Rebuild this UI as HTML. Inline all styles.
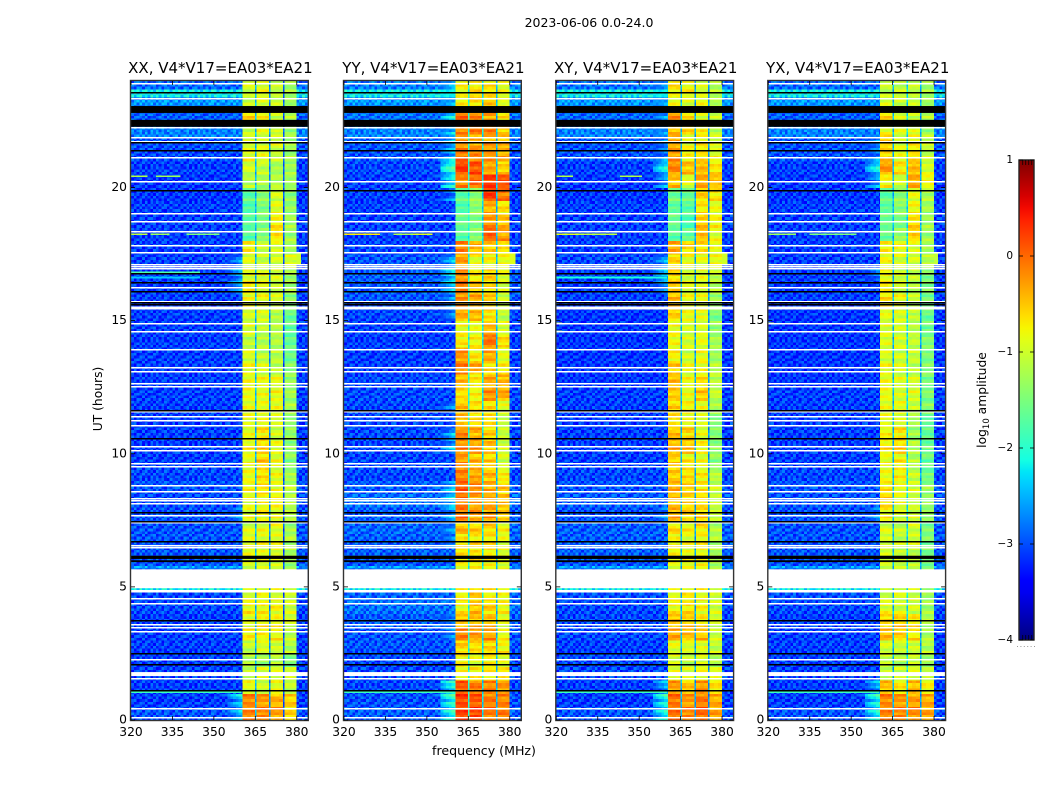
<!DOCTYPE html>
<html lang="en">
<head>
<meta charset="utf-8">
<title>2023-06-06 dynamic spectra</title>
<style>
html,body{margin:0;padding:0;background:#fff;width:1050px;height:800px;overflow:hidden}
svg{display:block}
text{font-family:"DejaVu Sans","Liberation Sans",sans-serif;fill:#000}
</style>
</head>
<body>
<svg id="chart" xmlns="http://www.w3.org/2000/svg" width="1050" height="800" viewBox="0 0 1050 800">
  <text x="589" y="27" font-size="12.5" text-anchor="middle">2023-06-06 0.0-24.0</text>
  <text transform="translate(102,399) rotate(-90)" font-size="12.3" text-anchor="middle">UT (hours)</text>
  <text x="484" y="755" font-size="12.6" text-anchor="middle">frequency (MHz)</text>
  <text transform="translate(986,400) rotate(-90)" font-size="12.3" text-anchor="middle">log<tspan font-size="8.5" dy="3">10</tspan><tspan dy="-3"> amplitude</tspan></text>
</svg>
<script>
// ---- tick labels and categories ----
const panelTitles = ['XX, V4*V17=EA03*EA21', 'YY, V4*V17=EA03*EA21', 'XY, V4*V17=EA03*EA21', 'YX, V4*V17=EA03*EA21'];
const freqTicks = [320, 335, 350, 365, 380];
const timeTicks = [0, 5, 10, 15, 20];
const colorTicks = [-4, -3, -2, -1, 0, 1];

// ---- log10 amplitude per half-hour block (UT 0.0 to 23.5), one array per band per polarisation ----
const xxBand1 = [-.2,-.2,-.9,-1,-1.2,-1.1,-.8,-.9,-.8,-.9,-1,-1,-.9,-.9,-1,-.9,-.9,-.8,-.9,-.9,-.8,-.9,-.9,-.9,-.9,-.9,-.9,-1,-1.1,-1,-1,-.9,-.8,-.9,-.9,-.8,-1.7,-1.8,-1.8,-1.7,-1.2,-1,-.9,-1,-1.1,-.7,-1.1,-1];
const xxBand2 = [-.2,-.3,-1,-1,-1.3,-1,-.8,-.8,-.8,-.9,-1,-1,-.9,-.9,-.9,-.8,-.8,-.7,-.7,-.6,-.6,-.7,-.8,-.9,-.9,-.9,-1,-1.1,-1.2,-1.1,-1,-.9,-.9,-.9,-1.1,-1,-1.5,-1.5,-1.5,-1.4,-1.2,-1.1,-.9,-1,-1,-.8,-.9,-.9];
const xxBand3 = [-.3,-.4,-.9,-.9,-1.2,-1,-.8,-.8,-.8,-.9,-1,-1,-.9,-.9,-.9,-.9,-.8,-.9,-.9,-.9,-.9,-1,-1,-.9,-.9,-.9,-1.1,-1.2,-1.2,-1.2,-1.2,-1,-1,-1,-1,-1,-.7,-.8,-.9,-1,-1.2,-1.3,-1.1,-1,-1.1,-1,-1.1,-1.1];
const xxBand4 = [-.6,-.6,-1.1,-1.1,-1.5,-1.2,-1.1,-1,-1,-1.1,-1.3,-1.3,-1.2,-1.2,-1.3,-1.2,-1.2,-1.2,-1.3,-1.4,-1.4,-1.4,-1.4,-1.3,-1.3,-1.3,-1.5,-1.6,-1.7,-1.7,-1.6,-1.4,-1.3,-1.3,-1,-1.3,-1.3,-1.3,-1.4,-1.4,-1.3,-1.3,-1.3,-1.3,-1.3,-1.2,-1.3,-1.3];

const yyBand1 = [.15,.15,.05,-.7,-.8,-.6,-.2,-.5,-.8,-.7,-.9,-.8,-.7,-.7,-.5,-.1,-.1,.05,-.2,-.3,-.2,-.2,-.5,-.5,-.7,-.5,-.2,-.3,-.7,-.9,-.4,-.3,-.2,-.2,-.3,-.2,-1.7,-1.7,-1.8,-1.7,-.2,.2,-.1,-.3,-.2,-.1,-.8,-.8];
const yyBand2 = [.15,.05,-.1,-.8,-.9,-.7,-.3,-.5,-.5,-.6,-.9,-.8,-.7,-.7,-.6,-.3,-.3,-.2,-.4,-.5,-.3,-.4,-.6,-.7,-.8,-.8,-.4,-.7,-.8,-.9,-.5,-.4,-.5,-.7,-.9,-.4,-1.5,-1.5,-1.4,-1.4,0,.1,-.2,-.4,-.2,-.2,-.6,-.7];
const yyBand3 = [-.1,-.1,-.2,-.7,-.8,-.6,-.3,-.5,-.6,-.7,-.9,-.8,-.7,-.7,-.6,-.3,-.4,-.4,-.5,-.6,-.5,-.6,-.7,-.7,-.3,-.4,-.6,-.4,-.1,-.5,-.7,-.6,-.6,-.6,-.8,-.6,0,-.3,-.4,.2,.2,-.4,-.3,-.4,-.2,-.3,-.6,-.7];
const yyBand4 = [-.1,-.2,-.3,-.8,-.9,-.8,-.8,-.9,-.8,-.9,-1,-.9,-.9,-.9,-.8,-.6,-.5,-.6,-.8,-1,-1,-1.1,-1.1,-1,-.4,-.4,-.8,-.9,-.7,-1,-1.1,-1,-1,-.9,-.9,-.7,-.3,-.5,-.7,-.1,.1,-.6,-.4,-.5,-.5,-.7,-.9,-.9];

const xyBand1 = [-.1,-.1,-.3,-.8,-1,-.9,-.4,-.5,-.8,-.8,-.9,-.9,-.8,-.8,-.7,-.4,-.5,-.4,-.6,-.6,-.4,-.5,-.7,-.6,-.6,-.5,-.6,-.8,-.8,-.9,-.6,-.5,-.6,-.6,-.6,-.4,-1.7,-1.7,-1.7,-1.6,-.5,-.2,-.3,-.4,-.5,-.3,-.9,-.7];
const xyBand2 = [-.2,-.3,-.5,-1,-1.1,-1,-.5,-.6,-.7,-.8,-.9,-.9,-.9,-.9,-.8,-.6,-.6,-.6,-.7,-.8,-.5,-.6,-.8,-.8,-.9,-.9,-.9,-1,-1,-1,-.9,-.9,-.9,-1,-.9,-.6,-1.7,-1.8,-1.7,-1.6,-.9,-.5,-.8,-.9,-.7,-.7,-.9,-.8];
const xyBand3 = [0,-.1,-.3,-.8,-1,-.9,-.5,-.7,-.8,-.8,-.9,-.8,-.8,-.8,-.7,-.6,-.7,-.7,-.8,-.9,-.8,-.9,-1,-.9,-.6,-.7,-.8,-.9,-.9,-1,-.9,-.9,-.9,-.9,-.9,-.7,-.5,-.6,-.7,-.6,-.4,-.5,-.7,-.8,-.8,-.9,-.9,-1];
const xyBand4 = [-.3,-.4,-.7,-1,-1.2,-1.1,-1,-1,-1,-1.1,-1.3,-1.2,-1.2,-1.2,-1.2,-1.1,-1.1,-1.1,-1.2,-1.4,-1.4,-1.5,-1.5,-1.3,-1.1,-1.1,-1.2,-1.3,-1.3,-1.4,-1.5,-1.3,-1.2,-1.1,-.9,-.9,-.9,-.8,-.9,-.7,-.5,-.7,-.9,-1,-1.1,-1.1,-1.2,-1.2];

const yxBand1 = [-.2,-.2,-.5,-1,-1.1,-1,-.5,-.6,-.9,-1,-1.1,-1,-1,-1,-1,-.8,-.6,-.7,-.9,-.9,-.7,-.8,-.9,-.9,-.9,-.9,-.9,-1,-.9,-1,-.9,-.7,-.8,-.8,-.8,-.8,-1.6,-1.7,-1.7,-1.7,-.8,-.3,-.6,-.6,-.9,-.7,-1,-1.1];
const yxBand2 = [-.2,-.3,-.7,-1.1,-1.2,-1.1,-.6,-.6,-1,-1,-1.1,-1.1,-1.1,-1.1,-1.1,-1,-.9,-.9,-.8,-.8,-.6,-.7,-.9,-.9,-1,-1,-1,-1,-1,-1,-1,-.9,-1,-1,-1,-.8,-1.4,-1.5,-1.4,-1.4,-1,-.7,-.9,-1,-1,-1,-1,-1.1];
const yxBand3 = [-.2,-.3,-.5,-.9,-1.1,-1,-.7,-.7,-1,-1,-1.2,-1.1,-1.1,-1,-1,-1,-1.1,-1,-1.1,-1.2,-1.2,-1.3,-1.3,-1.1,-1,-1,-1.1,-1.1,-1.1,-1.2,-1.1,-1.1,-1.1,-1.1,-1,-1,-.6,-.7,-.8,-.9,-.4,-.5,-.7,-.8,-1,-1,-1.1,-1.1];
const yxBand4 = [-.3,-.4,-.8,-1.2,-1.3,-1.2,-1.2,-1.2,-1.3,-1.4,-1.5,-1.5,-1.5,-1.5,-1.5,-1.4,-1.4,-1.4,-1.6,-1.6,-1.6,-1.7,-1.7,-1.5,-1.5,-1.5,-1.5,-1.5,-1.5,-1.6,-1.6,-1.5,-1.5,-1.5,-1.2,-1.3,-1.3,-1.3,-1.3,-1.2,-.8,-1,-1.1,-1.1,-1.3,-1.2,-1.3,-1.3];

// ---- off-band background level per half-hour block ----
const xxBackground = [-3,-3.1,-3.1,-3.1,-3.1,-3.1,-3.1,-3.1,-3.05,-3.05,-3,-3,-3,-3,-3,-3,-3.05,-3,-3.05,-3.1,-3.1,-3.1,-3.1,-3.1,-3.1,-3.1,-3.1,-3.1,-3.1,-3.1,-3.1,-3.1,-3.1,-3.1,-3.1,-3.1,-3.1,-3.1,-3.1,-3.15,-3.15,-3.1,-3.05,-3,-2.95,-2.95,-2.9,-2.9];
const yyBackground = [-2.95,-3,-3.05,-3.05,-3.05,-3,-3,-2.95,-2.85,-2.9,-3,-3,-2.95,-2.95,-2.9,-2.95,-2.85,-2.95,-3.05,-3.05,-3.05,-3.05,-3.05,-3.05,-3.05,-3.05,-3.1,-3.1,-3.1,-3.1,-3.05,-3,-2.95,-2.95,-3,-3.05,-3.1,-3.1,-3.1,-3.1,-3.1,-3.05,-3,-2.95,-2.85,-2.85,-2.85,-2.8];
const xyBackground = [-3,-3.1,-3.1,-3.05,-3.05,-3.1,-3.05,-3.05,-3.05,-3,-3,-3,-2.95,-2.95,-2.95,-3,-2.95,-3,-3.05,-3.1,-3.1,-3.1,-3.1,-3.1,-3.1,-3.15,-3.15,-3.15,-3.15,-3.15,-3.15,-3.1,-3.1,-3.1,-3.05,-3.1,-3.1,-3.1,-3.1,-3.15,-3.15,-3.1,-3,-3,-2.95,-2.9,-2.85,-2.85];
const yxBackground = [-3,-3.1,-3.1,-3.1,-3.1,-3.1,-3.1,-3.1,-3.05,-3,-3,-3,-3,-3,-3,-3,-3,-3,-3.05,-3.1,-3.1,-3.1,-3.1,-3.1,-3.1,-3.15,-3.15,-3.15,-3.15,-3.15,-3.15,-3.1,-3.1,-3.1,-3.1,-3.1,-3.1,-3.1,-3.1,-3.15,-3.15,-3.1,-3,-3,-2.95,-2.95,-2.9,-2.9];

// ---- level of the skirt next to the band (at or below -2.85 means no visible skirt) ----
const xxSkirt = [-2.6,-2.5,-3,-3,-3,-3,-3,-3,-3,-3,-3,-3,-3,-3,-3,-2.8,-3,-3,-3,-3,-3,-3,-3,-3,-2.9,-3,-3,-3,-3,-3,-2.9,-3,-2.7,-2.6,-2.7,-3,-3,-3,-3,-3,-3,-3,-3,-3,-3,-3,-2.9,-2.9];
const yySkirt = [-2.2,-2.1,-2.2,-3,-3,-3,-2.8,-2.8,-3,-3,-3,-2.9,-3,-2.8,-2.8,-2.6,-2.4,-2.5,-2.9,-3,-2.6,-2.6,-2.9,-2.8,-3,-2.9,-3,-3,-3,-3,-2.8,-2.8,-2.5,-2.3,-2.5,-2.9,-3,-3,-3,-2.8,-2.3,-2.0,-2.5,-2.6,-2.5,-2.4,-2.7,-2.6];
const xySkirt = [-2.3,-2.2,-2.6,-3,-3,-3,-2.9,-2.9,-3,-3,-3,-3,-3,-3,-3,-2.8,-2.9,-3,-3,-3,-3,-3,-3,-3,-3,-3,-3,-3,-3,-3,-3,-3,-2.8,-2.5,-2.6,-3,-3,-3,-3,-3,-2.7,-2.3,-2.8,-2.8,-2.8,-2.8,-2.8,-2.8];
const yxSkirt = [-2.3,-2.2,-2.6,-3,-3,-3,-2.9,-2.9,-3,-3,-3,-3,-3,-3,-3,-2.8,-3,-3,-3,-3,-3,-3,-3,-3,-3,-3,-3,-3,-3,-3,-3,-3,-2.9,-2.8,-2.9,-3,-3,-3,-3,-3,-2.7,-2.3,-2.8,-2.8,-2.9,-2.9,-2.9,-2.9];

// ---- notch channels between the four band segments, per polarisation ----
const notchXX = [-2.5, -2.7, -3];
const notchYY = [-2.1, -2.3, -2.5];
const notchXY = [-2.5, -2.6, -2.7];
const notchYX = [-2.5, -2.3, -2.6];

// ---- sample-to-sample scatter ----
const speckleRow0 = [.2,-.3,.1,.3,-.2,0,-.3,.3,-.1,.2,-.3,.1,-.2,.3,0,-.1,.2];
const speckleRow1 = [-.2,.3,-.3,0,.3,-.1,.2,-.3,.3,-.2,.1,.3,0,-.3,.2,.1,-.3];
const speckleRow2 = [.3,0,.2,-.3,.1,.3,-.2,.1,-.3,.3,0,-.2,.3,.1,-.3,.2,0];
const speckleRow3 = [-.1,-.3,.3,.2,-.3,.2,.3,-.2,.1,-.1,.3,-.3,.1,.2,-.1,-.3,.3];
const speckleRow4 = [.3,.1,-.2,-.3,.3,-.3,0,.2,.3,-.3,-.1,.2,.3,-.2,.1,.3,-.1];
const speckleRow5 = [-.3,.2,.3,.1,-.1,.3,-.3,-.1,-.2,.1,.3,0,-.3,.3,-.2,0,.2];
const speckleRow6 = [.1,-.2,-.1,.3,.2,-.3,.3,.3,0,-.3,-.2,.3,.1,-.1,.3,-.3,.1];
const speckleRow7 = [.2,.3,-.3,-.1,0,.2,-.2,-.3,.3,.1,-.1,-.3,.2,0,-.2,.3,-.3];
const speckleRow8 = [-.2,0,.1,.3,-.3,-.1,.3,.1,-.2,.3,-.3,.1,-.1,.3,.2,-.2,0];
const speckleRow9 = [.3,-.3,.2,-.2,.1,.3,0,-.3,.2,0,.3,-.2,-.3,.1,-.1,.2,.3];
const speckleRow10 = [0,.2,-.3,.3,-.2,.1,-.1,.3,-.3,.2,-.2,.3,.2,-.3,.3,-.1,-.2];
const speckleRow11 = [-.3,.1,.3,-.1,.3,-.2,.2,0,.1,-.3,.2,-.1,.3,.2,-.3,.1,.3];
const speckleRow12 = [.1,-.1,-.2,.2,-.3,.3,-.3,.2,-.1,.3,0,.2,-.2,-.3,.3,0,-.1];
const speckleRows = [speckleRow0, speckleRow1, speckleRow2, speckleRow3, speckleRow4, speckleRow5, speckleRow6, speckleRow7, speckleRow8, speckleRow9, speckleRow10, speckleRow11, speckleRow12];
const bandStripes = [.25,-.1,.05,.3,-.15,0,.2,-.2,.1,.35,-.05,-.25,.15,0,.3,-.1,-.2,.2,.05,-.3,.1,.25,-.05,-.15,.3,0,-.25,.1,.2,-.1,.05];

// ---- elevated off-band intervals (UT hours) ----
const streakStart = [23.4, 23.08, 21.85, 5.66, 4.9];
const streakEnd   = [23.62, 23.3, 22.25, 5.8, 4.96];
const streakLevel = [-2.2, -2.65, -2.75, -2.6, -2.2];

// ---- flagged intervals (UT hours) ----
const whiteFlagTimes = [23.89,23.36,22.24,21.86,21.71,21.11,20.21,19.01,18.71,18.34,17.81,17.55,17.1,17.03,16.95,16.24,15.71,15.45,14.89,14.59,13.91,13.24,13.09,12.64,12.53,11.59,11.4,11.25,11.06,10.27,10.13,9.64,9.53,8.81,8.59,8.33,8.25,8.14,7.69,7.43,6.56,6.49,4.88,4.84,4.57,4.39,3.6,3.49,3.34,2.29,1.54,.45,.11];
const blackFlagTimes = [23.55,21.68,21.38,19.88,16.76,16.43,16.09,15.68,15.6,11.63,10.58,7.8,7.46,6.69,3.75,2.48,2.1,1.09];
const whiteBlockStart = [4.95, 1.65, 15.44];
const whiteBlockEnd = [5.66, 1.8, 15.53];
const blackBlockStart = [22.8, 22.28, 6.05, 5.93];
const blackBlockEnd = [23.06, 22.54, 6.17, 6];

// ---- narrow-band interference segments: polarisation index, UT, start and end MHz, level ----
const rfiPanel = [0,0,0,0,0,0, 1,1,1, 2,2,2,2, 3,3, 0,1,2,3, 0,1,2,3, 0,2, 1,2,3,2];
const rfiTime  = [18.25,18.25,18.25,20.42,20.42,16.82, 18.25,18.25,18.25, 18.25,18.25,20.42,20.42, 18.25,18.25, 17.3,17.3,17.3,17.3, 1.05,1.05,1.05,1.05, 16.62,16.62, 14.9,14.9,14.9,14.6];
const rfiFrom  = [320,327,340,320,329,320, 320,338,345, 320,328,320,343, 320,335, 379.9,379.9,379.9,379.9, 320,320,320,320, 320,320, 320,320,320,320];
const rfiTo    = [326,334,352,326,338,345, 333,345,352, 328,342,326,351, 330,352, 381.5,382,382,381.5, 360,360,360,360, 345,360, 322,322,322,322];
const rfiLevel = [-1.1,-1.3,-1.5,-1.2,-1.3,-1.8, -.7,-1.2,-.9, -.9,-1.1,-1.2,-1.2, -1.3,-1.5, -1,-.9,-1,-1.1, -1.9,-1.9,-1.9,-1.9, -2.4,-2.1, -1.2,-1.2,-1.2,-1.4];

// ---- assemble per-polarisation lookups ----
const bandSeries = [[xxBand1,xxBand2,xxBand3,xxBand4],[yyBand1,yyBand2,yyBand3,yyBand4],[xyBand1,xyBand2,xyBand3,xyBand4],[yxBand1,yxBand2,yxBand3,yxBand4]];
const backgroundSeries = [xxBackground, yyBackground, xyBackground, yxBackground];
const skirtSeries = [xxSkirt, yySkirt, xySkirt, yxSkirt];
const notchSeries = [notchXX, notchYY, notchXY, notchYX];

// ---- layout and axis functions ----
const plotLeft = [131, 344, 556.3, 768.3];
const plotWidth = 176.8;
const plotTop = 81;
const plotBottom = 720;
const freqMin = 320, freqMax = 384, timeMin = 0, timeMax = 24;
const bandEdges = [360.4, 364.9, 365.5, 370, 370.5, 375, 375.5, 379.9];
const rowHours = 0.1;
const blockHours = 0.5;
const bgColumnMHz = 1;
const bandColumnMHz = 1.5;
const skirtStart = 355;
const cbar = {x: 1019, y: 160, w: 15, h: 480, min: -4, max: 1};

function xScale(panel, mhz) { return plotLeft[panel] + (mhz - freqMin) / (freqMax - freqMin) * plotWidth; }
function yScale(hours) { return plotBottom - (hours - timeMin) / (timeMax - timeMin) * (plotBottom - plotTop); }
function cScale(level) { return cbar.y + cbar.h - (level - cbar.min) / (cbar.max - cbar.min) * cbar.h; }

// jet colormap anchors
function ramp(anchors, p) {
  for (let i = 1; i < anchors.length; i++) {
    if (p <= anchors[i][0]) {
      const a = anchors[i - 1], b = anchors[i];
      return a[1] + (b[1] - a[1]) * (p - a[0]) / (b[0] - a[0]);
    }
  }
  return anchors[anchors.length - 1][1];
}
const jetR = [[0,0],[.35,0],[.66,1],[.89,1],[1,.5]];
const jetG = [[0,0],[.125,0],[.375,1],[.64,1],[.91,0],[1,0]];
const jetB = [[0,.5],[.11,1],[.34,1],[.65,0],[1,0]];
function jet(level) {
  const p = Math.min(1, Math.max(0, (level - cbar.min) / (cbar.max - cbar.min)));
  return 'rgb(' + Math.round(ramp(jetR, p) * 255) + ',' + Math.round(ramp(jetG, p) * 255) + ',' + Math.round(ramp(jetB, p) * 255) + ')';
}

const svg = document.getElementById('chart');
const NS = 'http://www.w3.org/2000/svg';
function make(tag, parent, props) {
  const node = document.createElementNS(NS, tag);
  for (const k in props) node.setAttribute(k, props[k]);
  parent.appendChild(node);
  return node;
}

function backgroundAt(panel, hours) {
  let level = backgroundSeries[panel][Math.min(47, Math.floor(hours / blockHours + 1e-6))];
  for (let s = 0; s < streakStart.length; s++) {
    if (hours >= streakStart[s] && hours < streakEnd[s]) level = Math.max(level, streakLevel[s]);
  }
  return level;
}

function drawPanel(panel) {
  const group = make('g', svg, {});
  
  

  const frameBack = make('rect', group, {x: plotLeft[panel], y: plotTop, width: plotWidth, height: plotBottom - plotTop, fill: '#fff'});
  
  

  const cells = make('g', group, {'shape-rendering': 'crispEdges'});
  
  

  const rowCount = Math.round((timeMax - timeMin) / rowHours);
  function cell(f0, f1, t, level) {
    const x0 = xScale(panel, f0), x1 = xScale(panel, f1), yTop = yScale(t + rowHours), yBot = yScale(t);
    const r = make('rect', cells, {x: x0.toFixed(2), y: yTop.toFixed(2), width: (x1 - x0 + .4).toFixed(2), height: (yBot - yTop + .4).toFixed(2), fill: jet(level)});
    
    
  }

  for (let row = 0; row < rowCount; row++) {
    const t = row * rowHours;
    const block = Math.min(47, Math.floor(t / blockHours + 1e-6));
    const base = backgroundAt(panel, t);
    const speckle = speckleRows[row % speckleRows.length];
    // off-band channels below the band
    let col = 0;
    for (let f = freqMin; f < skirtStart; f += bgColumnMHz, col++) {
      cell(f, f + bgColumnMHz, t, base + speckle[col % speckle.length]);
    }
    // skirt
    const skirt = skirtSeries[panel][block];
    for (let f = skirtStart; f < bandEdges[0] - .01; f += bgColumnMHz, col++) {
      const w = Math.min(bgColumnMHz, bandEdges[0] - f);
      const share = (f - skirtStart) / (bandEdges[0] - skirtStart);
      const lit = skirt > -2.85 ? Math.max(base, skirt + bandStripes[row % bandStripes.length] * 1.2 + (share - .7) * .6) : base;
      cell(f, f + w, t, lit + speckle[col % speckle.length] * (skirt > -2.85 ? .3 : 1));
    }
    // band segments and notches
    for (let b = 0; b < 4; b++) {
      const stripe = bandStripes[(row + b * 5) % bandStripes.length] * .75;
      const left = bandEdges[b * 2], right = bandEdges[b * 2 + 1];
      let sub = 0;
      for (let f = left; f < right - .01; f += bandColumnMHz, sub++) {
        cell(f, Math.min(right, f + bandColumnMHz), t, bandSeries[panel][b][block] + stripe + speckle[(sub + b * 3) % speckle.length] * .2);
      }
      if (b < 3) cell(right, bandEdges[b * 2 + 2], t, notchSeries[panel][b] + stripe);
    }
    // off-band channels above the band
    col = 0;
    for (let f = bandEdges[7]; f < freqMax - .01; f += bgColumnMHz, col++) {
      const w = Math.min(bgColumnMHz, freqMax - f);
      cell(f, f + w, t, base + speckle[(col + 5) % speckle.length]);
    }
  }

  // interference
  rfiPanel.forEach((p, i) => {
    if (p !== panel) return;
    const x0 = xScale(panel, rfiFrom[i]), x1 = xScale(panel, rfiTo[i]);
    const tall = rfiFrom[i] > 370 ? 0.45 : 0.06;
    const yTop = yScale(rfiTime[i] + tall / 2);
    const mark = make('rect', cells, {x: x0.toFixed(2), y: yTop.toFixed(2), width: (x1 - x0).toFixed(2), height: Math.max(1, yScale(rfiTime[i] - tall / 2) - yTop).toFixed(2), fill: jet(rfiLevel[i])});
    
    
  });

  // flagged data
  const span = {x: plotLeft[panel], width: plotWidth};
  whiteFlagTimes.forEach(t => {
    const m = make('rect', group, {x: span.x, y: Math.round(yScale(t) - .5), width: span.width, height: 1.5, fill: '#fff'});
    
    
  });
  blackFlagTimes.forEach(t => {
    const m = make('rect', group, {x: span.x, y: Math.round(yScale(t) - .5), width: span.width, height: 1.5, fill: '#000'});
    
    
  });
  whiteBlockStart.forEach((s, i) => {
    const yTop = yScale(whiteBlockEnd[i]);
    const m = make('rect', group, {x: span.x, y: yTop.toFixed(2), width: span.width, height: (yScale(s) - yTop).toFixed(2), fill: '#fff'});
    
    
  });
  blackBlockStart.forEach((s, i) => {
    const yTop = yScale(blackBlockEnd[i]);
    const m = make('rect', group, {x: span.x, y: yTop.toFixed(2), width: span.width, height: (yScale(s) - yTop).toFixed(2), fill: '#000'});
    
    
  });

  // frame
  const frame = make('rect', group, {x: plotLeft[panel] - .5, y: plotTop - .5, width: plotWidth + 1, height: plotBottom - plotTop + 1, fill: 'none', stroke: '#333', 'stroke-width': 1.4});
  
  

  // ticks
  freqTicks.forEach(v => {
    const x = xScale(panel, v);
    [[plotBottom, plotBottom - 4], [plotTop, plotTop + 4]].forEach(p => {
      const l = make('line', group, {x1: x, x2: x, y1: p[0], y2: p[1], stroke: '#000', 'stroke-width': .8});
      
      
    });
    const label = make('text', group, {x: x, y: 736, 'font-size': 12.3, 'text-anchor': 'middle'});
    label.textContent = v;
    
    
  });
  timeTicks.forEach(v => {
    const y = yScale(v);
    [[plotLeft[panel], plotLeft[panel] + 4], [plotLeft[panel] + plotWidth, plotLeft[panel] + plotWidth - 4]].forEach(p => {
      const l = make('line', group, {x1: p[0], x2: p[1], y1: y, y2: y, stroke: '#000', 'stroke-width': .8});
      
      
    });
    const label = make('text', group, {x: plotLeft[panel] - 4, y: y + 3.5, 'font-size': 12.3, 'text-anchor': 'end'});
    label.textContent = v;
    
    
  });

  const title = make('text', group, {x: plotLeft[panel] + plotWidth / 2 + 1, y: 73, 'font-size': 15, 'text-anchor': 'middle'});
  title.textContent = panelTitles[panel];
  
  
}

panelTitles.forEach((_, i) => drawPanel(i));

// ---- colour bar ----
const defs = make('defs', svg, {});
const grad = make('linearGradient', defs, {id: 'jet-gradient', x1: 0, y1: 1, x2: 0, y2: 0});
const stopCount = 40;
for (let i = 0; i <= stopCount; i++) {
  const lvl = cbar.min + (cbar.max - cbar.min) * i / stopCount;
  make('stop', grad, {offset: (i / stopCount).toFixed(3), 'stop-color': jet(lvl)});
}
const barGroup = make('g', svg, {});


const barRect = make('rect', barGroup, {x: cbar.x, y: cbar.y, width: cbar.w, height: cbar.h, fill: 'url(#jet-gradient)', stroke: '#222', 'stroke-width': 1.4});


colorTicks.forEach(v => {
  const y = cScale(v);
  [[cbar.x, cbar.x + 4], [cbar.x + cbar.w, cbar.x + cbar.w - 4]].forEach(p => {
    const l = make('line', barGroup, {x1: p[0], x2: p[1], y1: y, y2: y, stroke: '#000', 'stroke-width': .8});
    
    
  });
  const label = make('text', barGroup, {x: cbar.x - 6, y: y + 3, 'font-size': 10.5, 'text-anchor': 'end'});
  label.textContent = v < 0 ? '\u2212' + Math.abs(v) : String(v);
  
  
});
[0.25, 0.45, 0.65, 0.85].forEach(share => {
  const x = cbar.x + cbar.w * share;
  [[cbar.y, cbar.y + 5], [cbar.y + cbar.h, cbar.y + cbar.h - 5]].forEach(p => {
    const l = make('line', barGroup, {x1: x, x2: x, y1: p[0], y2: p[1], stroke: '#000', 'stroke-width': .7});
    
    
  });
});
const dots = make('line', barGroup, {x1: cbar.x - 2, x2: cbar.x + cbar.w + 1, y1: 646.5, y2: 646.5, stroke: '#999', 'stroke-width': 1, 'stroke-dasharray': '1 2.4'});


</script>
</body>
</html>
